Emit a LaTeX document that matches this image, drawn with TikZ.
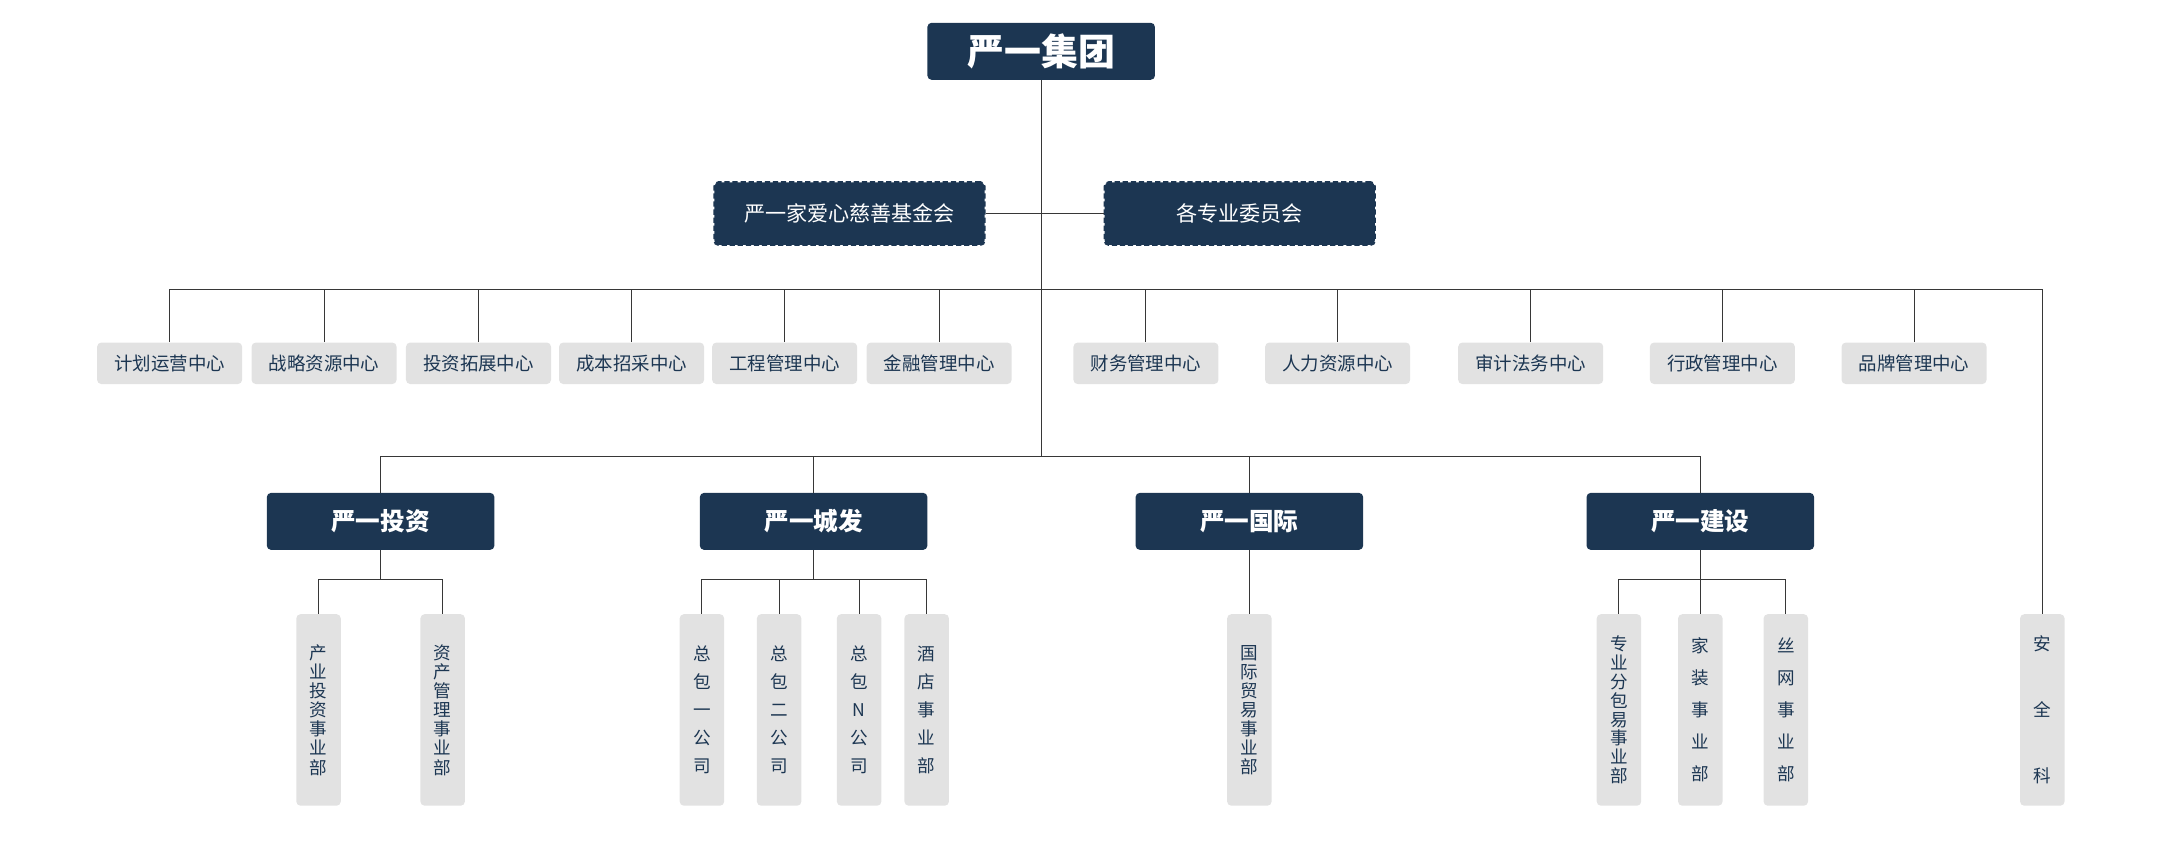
\documentclass[tikz,border=0pt]{standalone}
\usepackage{fontspec}
\setmainfont{Noto Sans CJK SC}
\definecolor{DeepNavy}{RGB}{28, 54, 82}
\definecolor{PaleGray}{RGB}{226, 226, 226}
\definecolor{LineGray}{RGB}{55, 55, 55}
\usetikzlibrary{positioning}

\begin{document}
\begin{tikzpicture}[x=0.02758cm, y=-0.02772cm,
        head/.style={rectangle, rounded corners=2.4pt, fill=DeepNavy, text=white, minimum width=4.55cm, minimum height=1.14cm, align=center},
        side/.style={rectangle, rounded corners=2.4pt, fill=DeepNavy, draw=DeepNavy, line width=1.3pt, dash pattern=on 3pt off 1.6pt, text=white, minimum width=5.4cm, minimum height=1.25cm, font=\fontsize{12}{14}\selectfont},
        dept/.style={rectangle, rounded corners=2.4pt, fill=PaleGray, text=DeepNavy, minimum width=2.9cm, minimum height=0.83cm, inner sep=0pt, font=\fontsize{10.5}{12}\selectfont},
        vbox/.style={rectangle, rounded corners=2.4pt, fill=PaleGray, text=DeepNavy, minimum width=0.89cm, minimum height=3.83cm, inner sep=0pt, align=center, font=\fontsize{10}{#1}\selectfont},
        link/.style={draw=LineGray, line width=0.6pt},
    ]
    \useasboundingbox (0,0) rectangle (1567.8,617);
    % top
    \node[head, font=\bfseries\fontsize{21}{24}\selectfont] (root) at (755,37) {严一集团};
    \node[side] (fund) at (616,154) {严一家爱心慈善基金会};
    \node[side] (comm) at (899,154) {各专业委员会};
    % centres
    \node[dept] (c1) at (123,262) {计划运营中心};
    \node[dept] (c2) at (235,262) {战略资源中心};
    \node[dept] (c3) at (347,262) {投资拓展中心};
    \node[dept] (c4) at (458,262) {成本招采中心};
    \node[dept] (c5) at (569,262) {工程管理中心};
    \node[dept] (c6) at (681,262) {金融管理中心};
    \node[dept] (c7) at (831,262) {财务管理中心};
    \node[dept] (c8) at (970,262) {人力资源中心};
    \node[dept] (c9) at (1110,262) {审计法务中心};
    \node[dept] (c10) at (1249,262) {行政管理中心};
    \node[dept] (c11) at (1388,262) {品牌管理中心};
    % companies
    \node[head, font=\bfseries\fontsize{14}{16}\selectfont] (tz) at (276,376) {严一投资};
    \node[head, font=\bfseries\fontsize{14}{16}\selectfont] (cf) at (590,376) {严一城发};
    \node[head, font=\bfseries\fontsize{14}{16}\selectfont] (gj) at (906,376) {严一国际};
    \node[head, font=\bfseries\fontsize{14}{16}\selectfont] (js) at (1233,376) {严一建设};
    % units
    \node[vbox=10.9pt] (tz1) at (231,512) {产\\业\\投\\资\\事\\业\\部};
    \node[vbox=10.9pt] (tz2) at (321,512) {资\\产\\管\\理\\事\\业\\部};
    \node[vbox=16pt] (cf1) at (509,512) {总\\包\\一\\公\\司};
    \node[vbox=16pt] (cf2) at (565,512) {总\\包\\二\\公\\司};
    \node[vbox=16pt] (cf3) at (623,512) {总\\包\\N\\公\\司};
    \node[vbox=16pt] (cf4) at (672,512) {酒\\店\\事\\业\\部};
    \node[vbox=10.8pt] (gj1) at (906,512) {国\\际\\贸\\易\\事\\业\\部};
    \node[vbox=10.7pt] (js1) at (1174,512) {专\\业\\分\\包\\易\\事\\业\\部};
    \node[vbox=18.2pt] (js2) at (1233,512) {家\\装\\事\\业\\部};
    \node[vbox=18.2pt] (js3) at (1295,512) {丝\\网\\事\\业\\部};
    \node[vbox=37.5pt] (aq) at (1481,512) {安\\全\\科};
    % connectors
    \coordinate (yA) at (0,209);
    \coordinate (yB) at (0,329);
    \coordinate (yC) at (0,418);
    \draw[link] (root) -- (root |- yB);
    \draw[link] (fund) -- (comm);
    \draw[link] (c1.north) |- (aq.north |- yA) -- (aq.north);
    \foreach \n in {2,...,11}
        \draw[link] (c\n.north) -- (c\n.north |- yA);
    \draw[link] (tz.north) |- (js.north |- yB) -- (js.north);
    \draw[link] (cf.north) -- (cf.north |- yB);
    \draw[link] (gj.north) -- (gj.north |- yB);
    \draw[link] (tz1.north) |- (tz.south |- yC) -| (tz2.north);
    \draw[link] (tz.south) -- (tz.south |- yC);
    \draw[link] (cf1.north) |- (cf.south |- yC) -| (cf4.north);
    \draw[link] (cf.south) -- (cf.south |- yC);
    \draw[link] (cf2.north) -- (cf2.north |- yC);
    \draw[link] (cf3.north) -- (cf3.north |- yC);
    \draw[link] (gj.south) -- (gj1.north);
    \draw[link] (js1.north) |- (js.south |- yC) -| (js3.north);
    \draw[link] (js.south) -- (js2.north);
\end{tikzpicture}
\end{document}
